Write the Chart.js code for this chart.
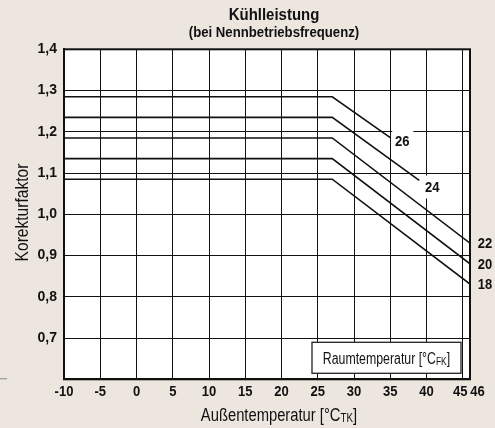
<!DOCTYPE html>
<html>
<head>
<meta charset="utf-8">
<script src="https://cdn.jsdelivr.net/npm/chart.js@4.4.1/dist/chart.umd.min.js"></script>
<style>
html,body{margin:0;padding:0;background:#ece6df;}
canvas{display:block;}
</style>
</head>
<body>
<canvas id="c" width="495" height="428" style="width:495px;height:428px"></canvas>
<script>
// ---- data ----
const xTickValues = [-10,-5,0,5,10,15,20,25,30,35,40,45,46];
const xTickLabels = ['-10','-5','0','5','10','15','20','25','30','35','40','45','46'];
const seriesNames = ['26','24','22','20','18'];
const x26 = [-10, 27, 35];   const y26 = [1.285, 1.285, 1.186];
const x24 = [-10, 27, 39];   const y24 = [1.235, 1.235, 1.082];
const x22 = [-10, 27, 46];   const y22 = [1.185, 1.185, 0.930];
const x20 = [-10, 27, 46];   const y20 = [1.135, 1.135, 0.880];
const x18 = [-10, 27, 46];   const y18 = [1.085, 1.085, 0.831];
const titleText = 'Kühlleistung';
const subtitleText = '(bei Nennbetriebsfrequenz)';
const yTitle = 'Korekturfaktor';
const xTitleParts = ['Außentemperatur [°C', 'TK', ']'];
const legendParts = ['Raumtemperatur [°C', 'FK', ']'];

const xs = [x26, x24, x22, x20, x18];
const ys = [y26, y24, y22, y20, y18];
const pts = (a, b) => a.map((v, i) => ({x: v, y: b[i]}));

const FAM = '"Liberation Sans", Arial, sans-serif';

// draw text (possibly several parts, odd parts as small caps subscript), horizontally condensed
function drawParts(ctx, parts, size, weight, sx, x, y, align, baseline) {
  const big = weight + ' ' + size + 'px ' + FAM;
  const small = weight + ' ' + Math.round(size * 0.66) + 'px ' + FAM;
  const widths = parts.map((p, i) => { ctx.font = (i % 2 ? small : big); return ctx.measureText(p).width; });
  const total = widths.reduce((a, b) => a + b, 0);
  ctx.save();
  ctx.translate(x, y);
  ctx.scale(sx, 1);
  let cx = align === 'center' ? -total / 2 : 0;
  ctx.textAlign = 'left';
  ctx.textBaseline = baseline || 'alphabetic';
  parts.forEach((p, i) => {
    ctx.font = (i % 2 ? small : big);
    ctx.fillText(p, cx, (i % 2 ? 1 : 0));
    cx += widths[i];
  });
  ctx.restore();
}

const deco = {
  id: 'deco',
  beforeDraw(chart) {
    const {ctx, chartArea: a} = chart;
    ctx.save();
    ctx.fillStyle = '#ece6df';
    ctx.fillRect(0, 0, chart.width, chart.height);
    ctx.fillStyle = '#ffffff';
    ctx.fillRect(a.left, a.top, a.right - a.left, a.bottom - a.top);
    ctx.restore();
  },
  afterDatasetsDraw(chart) {
    const {ctx, chartArea: a} = chart;
    ctx.save();
    ctx.fillStyle = '#111';
    // frame
    ctx.strokeStyle = '#111';
    ctx.lineWidth = 2;
    ctx.strokeRect(a.left, a.top, a.right - a.left, a.bottom - a.top);

    // series labels at line ends
    const offs = [[12, 4, true], [13, 7, true], [15, 0, false], [15, 0, false], [15, 0, false]];
    chart.data.datasets.forEach((ds, i) => {
      const meta = chart.getDatasetMeta(i);
      const last = meta.data[meta.data.length - 1];
      const lx = last.x + offs[i][0], ly = last.y + offs[i][1];
      if (offs[i][2]) {
        ctx.fillStyle = '#ffffff';
        ctx.fillRect(lx - 10, ly - 12, 21, 23);
      }
      ctx.fillStyle = '#111';
      drawParts(ctx, [seriesNames[i]], 14, 'bold', 0.93, lx, ly + 1, 'center', 'middle');
    });

    // legend box
    const bw = 149, bh = 31;
    const bx = a.right - 9 - bw, by = a.bottom - 6 - bh;
    ctx.fillStyle = '#ffffff';
    ctx.fillRect(bx, by, bw, bh);
    ctx.strokeStyle = '#222';
    ctx.lineWidth = 1.3;
    ctx.strokeRect(bx, by, bw, bh);
    ctx.fillStyle = '#111';
    drawParts(ctx, legendParts, 16, 'normal', 0.77, bx + bw / 2, by + bh / 2 + 6, 'center');

    // x tick labels
    const xs_ = chart.scales.x;
    xTickValues.forEach((v, i) => {
      let px = xs_.getPixelForValue(v);
      if (v === 45) px -= 2.5;
      if (v === 46) px += 7.5;
      drawParts(ctx, [xTickLabels[i]], 14, 'bold', 0.93, px, a.bottom + 13, 'center', 'middle');
    });

    // titles
    drawParts(ctx, [titleText], 17, 'bold', 0.88, 274, 15, 'center', 'middle');
    drawParts(ctx, [subtitleText], 14, 'bold', 0.94, 274, 33, 'center', 'middle');

    // x axis title
    drawParts(ctx, xTitleParts, 18, 'normal', 0.82, 279, 421, 'center');

    // y axis title
    ctx.save();
    ctx.translate(28, 212.5);
    ctx.rotate(-Math.PI / 2);
    drawParts(ctx, [yTitle], 19, 'normal', 0.82, 0, 0, 'center');
    ctx.restore();

    // small decorative line bottom left
    ctx.strokeStyle = '#888';
    ctx.lineWidth = 1;
    ctx.beginPath();
    ctx.moveTo(0, a.bottom - 0.5);
    ctx.lineTo(7, a.bottom - 0.5);
    ctx.stroke();
    ctx.restore();
  }
};

new Chart(document.getElementById('c'), {
  type: 'scatter',
  data: {
    datasets: seriesNames.map((n, i) => ({
      label: n,
      data: pts(xs[i], ys[i]),
      showLine: true,
      borderColor: '#111',
      borderWidth: 1.6,
      pointRadius: 0,
      tension: 0,
      fill: false
    }))
  },
  options: {
    responsive: false,
    animation: false,
    events: [],
    layout: {padding: {left: 0, right: 25, top: 49.3, bottom: 0}},
    plugins: {legend: {display: false}, title: {display: false}, tooltip: {enabled: false}},
    scales: {
      x: {
        type: 'linear',
        min: -10, max: 46,
        afterBuildTicks: s => { s.ticks = xTickValues.map(v => ({value: v})); },
        afterFit: s => { s.height = 48.7; },
        ticks: {display: false},
        grid: {color: '#111', lineWidth: 1, drawTicks: false},
        border: {color: '#111', width: 2}
      },
      y: {
        type: 'linear',
        min: 0.6, max: 1.4,
        afterFit: s => { s.width = 64; },
        ticks: {
          stepSize: 0.1,
          padding: 7,
          color: '#111',
          font: {family: '"Liberation Sans", Arial, sans-serif', size: 14, weight: 'bold'},
          callback: v => (Math.abs(v - 0.6) < 1e-6 ? '' : v.toFixed(1).replace('.', ','))
        },
        grid: {color: '#111', lineWidth: 1, drawTicks: false},
        border: {color: '#111', width: 2}
      }
    }
  },
  plugins: [deco]
});
</script>
</body>
</html>
